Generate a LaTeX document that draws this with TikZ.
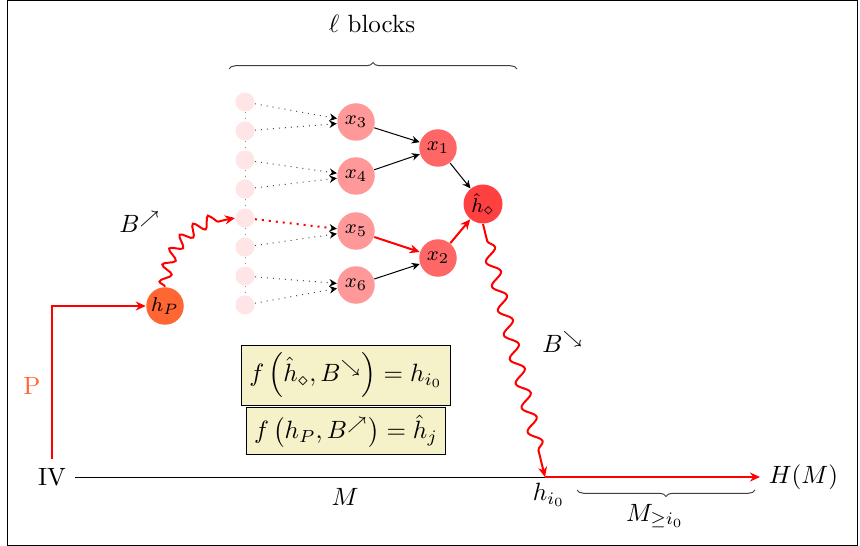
\documentclass[tikz,border=0pt]{standalone}
\usepackage{amsmath,amssymb}
\usetikzlibrary{arrows.meta,decorations.pathmorphing,decorations.pathreplacing}

\definecolor{hpcol}{RGB}{255,102,51}
\definecolor{boxcol}{RGB}{245,241,200}

\begin{document}
\begin{tikzpicture}[x=0.4pt,y=-0.4pt,
  smallc/.style={circle,fill=red!10,minimum size=7.6pt,inner sep=0pt},
  xnode/.style={circle,fill=red!40,minimum size=15pt,inner sep=0pt,font=\footnotesize},
  ynode/.style={circle,fill=red!60,minimum size=15pt,inner sep=0pt,font=\footnotesize},
  hnode/.style={circle,fill=red!75,minimum size=15.6pt,inner sep=0pt,font=\footnotesize},
  pnode/.style={circle,fill=hpcol,minimum size=15pt,inner sep=0pt,font=\footnotesize},
  dotarr/.style={dotted,black!70,-{Stealth[length=3pt,width=3pt,black]}},
  reddot/.style={red,dotted,thick,-{Stealth[length=3pt,width=3pt,black]}},
  blackarr/.style={-{Stealth[length=3.2pt,width=3pt]}},
  redarr/.style={red,thick,-{Stealth[length=4pt,width=3.6pt]}},
  vdots/.style={dotted,black!45,line width=0.3pt},
  fbox/.style={draw,fill=boxcol,inner sep=3pt},
  bracestyle/.style={black!75,decorate,decoration={brace,amplitude=2.6pt}},
  waveA/.style={red,thick,-{Stealth[length=4pt,width=3.6pt]},decorate,decoration={snake,amplitude=2.3pt,segment length=6.4pt,post length=4pt}},
  waveB/.style={red,thick,-{Stealth[length=4pt,width=3.6pt]},decorate,decoration={snake,amplitude=2.5pt,segment length=10pt,pre length=7pt,post length=6pt}}
]
\useasboundingbox (0,0) rectangle (860,546);
\draw[line width=0.4pt] (7,1) rectangle (857,545);

% title and brace
\node (title) at (372,24) {$\ell$ blocks};
\coordinate (bl) at (229,69);
\coordinate (br) at (517,69);
\draw[bracestyle] (bl) -- (br);

% small circles
\foreach \i/\y in {1/102,2/131,3/160,4/189,5/218,6/247,7/276,8/305}{
  \node[smallc] (c\i) at (245,\y) {};
}
\foreach \i/\j in {1/2,2/3,3/4,4/5,5/6,6/7,7/8}{
  \draw[vdots] (c\i) -- (c\j);
}

% x nodes
\node[xnode] (x3) at (356,122) {$x_3$};
\node[xnode] (x4) at (356,176) {$x_4$};
\node[xnode] (x5) at (356,231) {$x_5$};
\node[xnode] (x6) at (356,285) {$x_6$};
\node[ynode] (x1) at (438,148) {$x_1$};
\node[ynode] (x2) at (438,258) {$x_2$};
\node[hnode] (hd) at (483,204) {$\hat h_\diamond$};
\node[pnode] (hP) at (165,306) {$h_P$};

% dotted inputs
\draw[dotarr] (c1) -- (x3);
\draw[dotarr] (c2) -- (x3);
\draw[dotarr] (c3) -- (x4);
\draw[dotarr] (c4) -- (x4);
\draw[reddot] (c5) -- (x5);
\draw[dotarr] (c6) -- (x5);
\draw[dotarr] (c7) -- (x6);
\draw[dotarr] (c8) -- (x6);

% tree arrows
\draw[blackarr] (x3) -- (x1);
\draw[blackarr] (x4) -- (x1);
\draw[blackarr] (x6) -- (x2);
\draw[blackarr] (x1) -- (hd);
\draw[redarr] (x5) -- (x2);
\draw[redarr] (x2) -- (hd);

% bottom line
\node (IV) at (52,477) {IV};
\coordinate (hi) at (545,477);
\node[anchor=west] (HM) at (760,477) {$H(M)$};
\draw (IV.east) -- (hi);
\draw[redarr] (hi) -- (HM.west);
\draw[redarr] (IV.north) |- (hP.west);
\node[text=hpcol] (P) at (32,386) {P};

\node (M) at (345,497) {$M$};
\node (hilabel) at (549,495) {$h_{i_0}$};
\coordinate (b2l) at (577,490);
\coordinate (b2r) at (755,490);
\draw[bracestyle] (b2r) -- (b2l);
\node (Mge) at (655,516) {$M_{\geq i_0}$};

% waves
\draw[waveA] (hP.north) to[out=88,in=188] (c5.west);
\node (Bne) at (140,222) {$B^{\nearrow}$};
\draw[waveB] (hd.south) -- (hi);
\node (Bse) at (563,342) {$B^{\searrow}$};

% formula boxes
\node[fbox] (f1) at (346,375) {$f\left(\hat h_\diamond, B^{\searrow}\right)=h_{i_0}$};
\node[fbox] (f2) at (346,431) {$f\left(h_P, B^{\nearrow}\right)=\hat h_j$};
\end{tikzpicture}
\end{document}
